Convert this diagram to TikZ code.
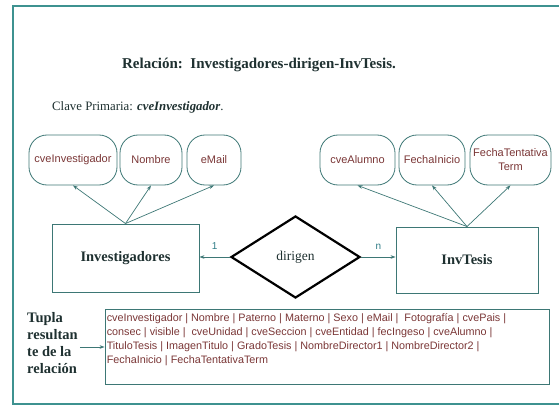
\documentclass[tikz,border=0pt]{standalone}
\usepackage{fontspec}
\setmainfont{Liberation Serif}
\setsansfont{Liberation Sans}
\usetikzlibrary{shapes.geometric,arrows.meta,calc}
\definecolor{ink}{HTML}{1E3030}
\definecolor{wire}{HTML}{3D7775}
\definecolor{frame}{HTML}{3E9290}
\definecolor{attrtext}{HTML}{7A3636}
\definecolor{cardtext}{HTML}{2F7C86}
\tikzset{
  attr/.style={draw=wire, line width=0.8pt, rounded corners=18pt, minimum height=50pt,
    inner sep=1pt, font=\sffamily\fontsize{11}{14}\selectfont, text=attrtext, align=center},
  entity/.style={draw=wire, line width=0.9pt, inner sep=0pt,
    font=\bfseries\fontsize{14.5}{16}\selectfont, text=ink},
  rel/.style={shape=diamond, draw=black, line width=2.2pt, line join=miter, inner sep=0pt,
    minimum width=129pt, minimum height=82pt, font=\fontsize{13.5}{15}\selectfont, text=ink},
  link/.style={draw=wire, line width=0.7pt, -{Stealth[length=5pt,width=3.6pt]}},
  card/.style={font=\sffamily\fontsize{10}{11}\selectfont, text=cardtext},
}
\begin{document}
\begin{tikzpicture}[x=1pt,y=-1pt]
\useasboundingbox (0,0) rectangle (559,409);
% outer frame, open past the right edge
\draw[frame, line width=1.6pt] (570,6) -- (13,6) -- (13,404) -- (570,404);

% headings
\node[font=\bfseries\fontsize{15}{17}\selectfont, text=ink] (title) at (259,65)
  {Relación:\ \ Investigadores-dirigen-InvTesis.};
\node[anchor=west, font=\fontsize{12.8}{14}\selectfont, text=ink, inner sep=0pt] (clave) at (52,107)
  {Clave Primaria: \textbf{\textit{cveInvestigador}}.};

% entities
\node[entity, minimum width=147pt, minimum height=68pt] (inv) at (125.5,258) {Investigadores};
\node[entity, minimum width=142pt, minimum height=66pt] (tes) at (467,260) {InvTesis};

% relationship
\node[rel] (dir) at (295.5,257) {dirigen};

% attributes
\node[attr, minimum width=88pt] (a1) at (73,160) {cveInvestigador};
\node[attr, minimum width=62pt] (a2) at (151,160) {Nombre};
\node[attr, minimum width=54pt] (a3) at (214,160) {eMail};
\node[attr, minimum width=75pt] (b1) at (357.5,160) {cveAlumno};
\node[attr, minimum width=66pt] (b2) at (432,160) {FechaInicio};
\node[attr, minimum width=81pt] (b3) at (510.5,160) {FechaTentativa\\Term};

\foreach \t in {a1,a2,a3} \draw[link] (inv.north) -- (\t.south);
\foreach \t in {b1,b2,b3} \draw[link] (tes.north) -- (\t.south);

% cardinalities
\draw[link] (dir.west) -- (dir.west -| inv.east) node[card, midway, above=4pt] (c1) {1};
\draw[link] (dir.east) -- (dir.east -| tes.west) node[card, midway, above=4pt] (cn) {n};

% resulting tuple
\node[draw=wire, line width=0.9pt, minimum width=444pt, minimum height=75pt, inner sep=0pt] (tup) at (327,346.5) {};
\node[anchor=north west, inner sep=0pt, align=left, text=attrtext,
  font=\sffamily\fontsize{10.8}{14}\selectfont] (tuptxt) at ($(tup.north west)+(2,5)$)
  {cveInvestigador | Nombre | Paterno | Materno | Sexo | eMail |\ \ Fotografía | cvePais |\\
   consec | visible |\ \ cveUnidad | cveSeccion | cveEntidad | fecIngeso | cveAlumno |\\
   TituloTesis | ImagenTitulo | GradoTesis | NombreDirector1 | NombreDirector2 |\\
   FechaInicio | FechaTentativaTerm};
\node[anchor=north west, inner sep=2pt, align=left, text=ink,
  font=\bfseries\fontsize{14.5}{17}\selectfont] (tupla) at (25,310)
  {Tupla\\resultan\\te de la\\relación};
\draw[link] (tupla.east |- 0,347) -- (tup.west |- 0,347);
\end{tikzpicture}
\end{document}
